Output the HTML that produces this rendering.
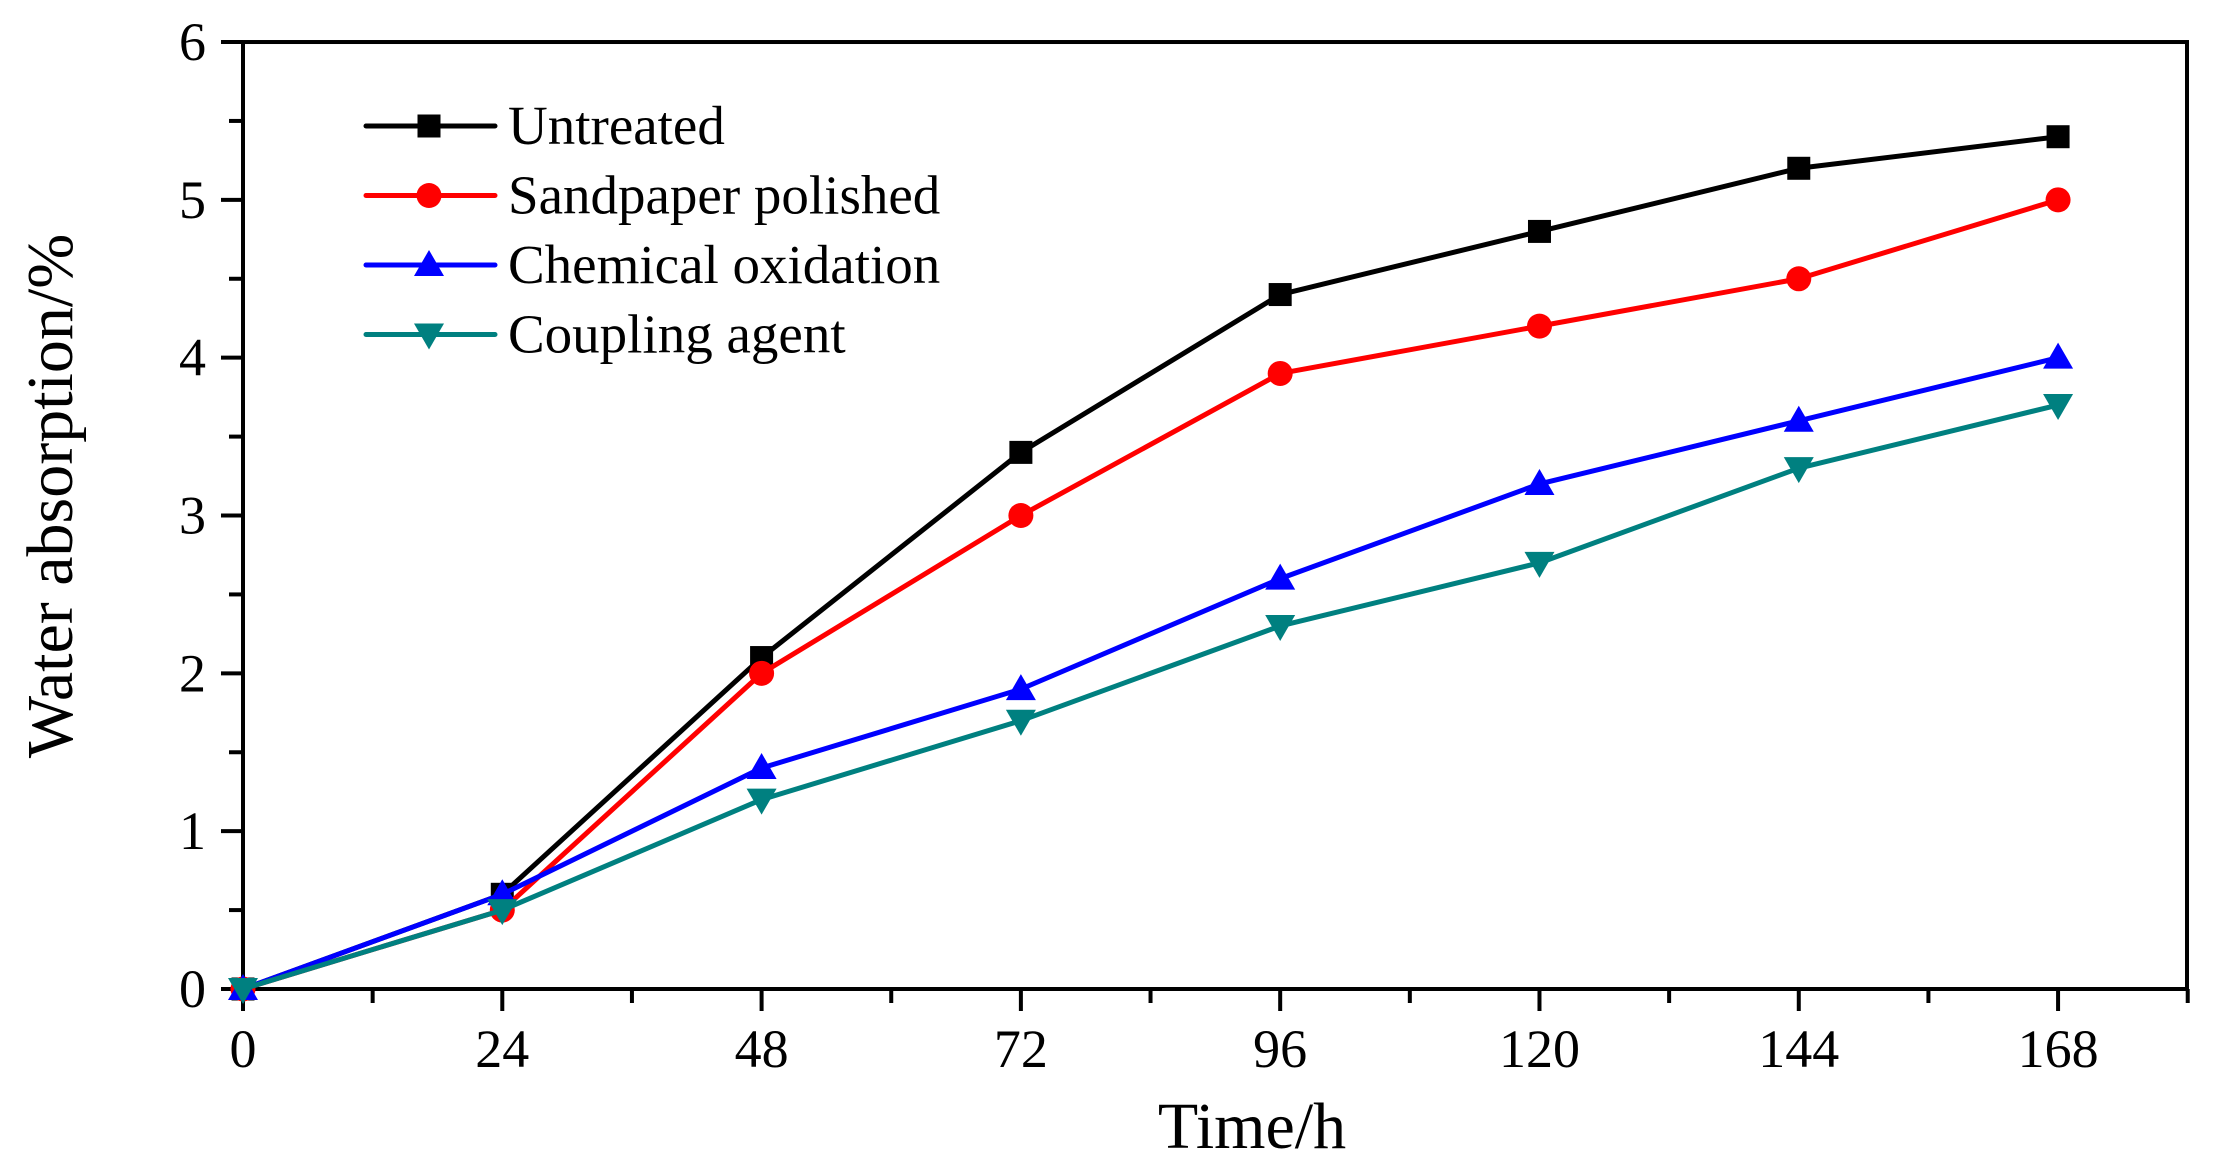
<!DOCTYPE html>
<html><head><meta charset="utf-8"><style>
html,body{margin:0;padding:0;background:#fff;}
svg{display:block;}
text{font-family:"Liberation Serif",serif;fill:#000;}
</style></head><body>
<svg id="s" width="2213" height="1171" viewBox="0 0 2213 1171" xmlns="http://www.w3.org/2000/svg">
<rect width="2213" height="1171" fill="#fff"/>
<g id="g"></g>
</svg>
<script>
const X0=243,PX=10.804,Y0=989,PY=157.83;
const X=h=>X0+h*PX, Y=v=>Y0-v*PY;
let s='';
// axes box
s+=`<rect x="${X0}" y="${Y(6)}" width="${2187-X0}" height="${Y0-Y(6)}" fill="none" stroke="#000" stroke-width="4"/>`;
// y ticks
for(let i=0;i<=12;i++){const v=i/2,y=Y(v),len=i%2?14:22;
 s+=`<line x1="${X0-len}" y1="${y}" x2="${X0}" y2="${y}" stroke="#000" stroke-width="4"/>`;
 if(i%2==0) s+=`<text x="206" y="${y+18}" font-size="54" text-anchor="end">${v}</text>`;}
// x ticks
for(let h=0;h<=180;h+=12){const x=X(h),len=(h%24==0)?22:14;
 s+=`<line x1="${x}" y1="${Y0}" x2="${x}" y2="${Y0+len}" stroke="#000" stroke-width="4"/>`;
 if(h%24==0&&h<=168) s+=`<text x="${x}" y="1067" font-size="54" text-anchor="middle">${h}</text>`;}
s+=`<text x="1252" y="1148" font-size="66" text-anchor="middle">Time/h</text>`;
s+=`<text transform="translate(72,496) rotate(-90)" font-size="66" text-anchor="middle">Water absorption/%</text>`;
const T=[0,24,48,72,96,120,144,168];
const S=[
 {c:'#000',m:'sq',d:[0,0.6,2.1,3.4,4.4,4.8,5.2,5.4],n:'Untreated'},
 {c:'#ff0000',m:'ci',d:[0,0.5,2.0,3.0,3.9,4.2,4.5,5.0],n:'Sandpaper polished'},
 {c:'#0000ff',m:'tu',d:[0,0.6,1.4,1.9,2.6,3.2,3.6,4.0],n:'Chemical oxidation'},
 {c:'#008080',m:'td',d:[0,0.5,1.2,1.7,2.3,2.7,3.3,3.7],n:'Coupling agent'}];
function mk(m,x,y,c){
 if(m=='sq')return `<rect x="${x-11.5}" y="${y-11.5}" width="23" height="23" fill="${c}"/>`;
 if(m=='ci')return `<circle cx="${x}" cy="${y}" r="12.5" fill="${c}"/>`;
 if(m=='tu')return `<polygon points="${x-15},${y+11} ${x+15},${y+11} ${x},${y-15}" fill="${c}"/>`;
 return `<polygon points="${x-15},${y-11} ${x+15},${y-11} ${x},${y+15}" fill="${c}"/>`;}
S.forEach((o,k)=>{
 s+=`<polyline points="${T.map((t,i)=>X(t)+','+Y(o.d[i])).join(' ')}" fill="none" stroke="${o.c}" stroke-width="5" stroke-linejoin="round"/>`;
 T.forEach((t,i)=>{s+=mk(o.m,X(t),Y(o.d[i]),o.c);});
 const ly=126+k*69.5;
 s+=`<line x1="366" y1="${ly}" x2="495" y2="${ly}" stroke="${o.c}" stroke-width="5" stroke-linecap="round"/>`;
 s+=mk(o.m,429,ly,o.c);
 s+=`<text x="508" y="${ly+18}" font-size="55">${o.n}</text>`;
});
document.getElementById('g').innerHTML=s;
</script>
</body></html>
